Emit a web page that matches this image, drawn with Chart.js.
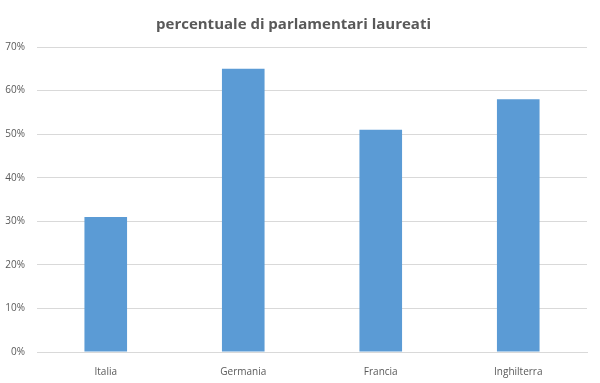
<!DOCTYPE html>
<html>
<head>
<meta charset="utf-8">
<script src="https://cdn.jsdelivr.net/npm/chart.js@4/dist/chart.umd.min.js"></script>
<style>
  html, body { margin: 0; padding: 0; background: #fff; }
  #wrap { width: 600px; height: 383px; }
</style>
</head>
<body>
<div id="wrap"><canvas id="chart"></canvas></div>
<script>
// dati
const paesi = ['Italia', 'Germania', 'Francia', 'Inghilterra'];
const laureati = [31, 65, 51, 58];
const tickMax = 70;
const tickStep = 10;

const grigio = '#595959';

new Chart(document.getElementById('chart'), {
    type: 'bar',
    data: {
        labels: paesi,
        datasets: [{
            label: 'percentuale di parlamentari laureati',
            data: laureati,
            backgroundColor: '#5b9bd5',
            borderWidth: 0,
            categoryPercentage: 1,
            barPercentage: 0.31
        }]
    },
    options: {
        responsive: true,
        maintainAspectRatio: false,
        animation: false,
        layout: { padding: { left: 0, right: 13, top: 0, bottom: 0 } },
        plugins: {
            legend: { display: false },
            tooltip: { enabled: false },
            title: {
                display: true,
                text: 'percentuale di parlamentari laureati',
                color: grigio,
                font: { family: 'Open Sans', size: 15, weight: 'bold' },
                padding: { top: 16, bottom: 13 }
            }
        },
        scales: {
            x: {
                grid: { display: false },
                border: { color: '#d9d9d9' },
                ticks: { color: grigio, font: { family: 'Open Sans', size: 10 }, padding: 6 },
                afterFit: s => { s.height = 31; }
            },
            y: {
                min: 0,
                max: tickMax,
                border: { display: false },
                grid: { color: '#d9d9d9', drawTicks: false },
                ticks: {
                    stepSize: tickStep,
                    color: grigio,
                    font: { family: 'Open Sans', size: 10 },
                    padding: 12,
                    callback: v => v + '%'
                },
                afterFit: s => { s.width = 37; }
            }
        }
    }
});
</script>
</body>
</html>
